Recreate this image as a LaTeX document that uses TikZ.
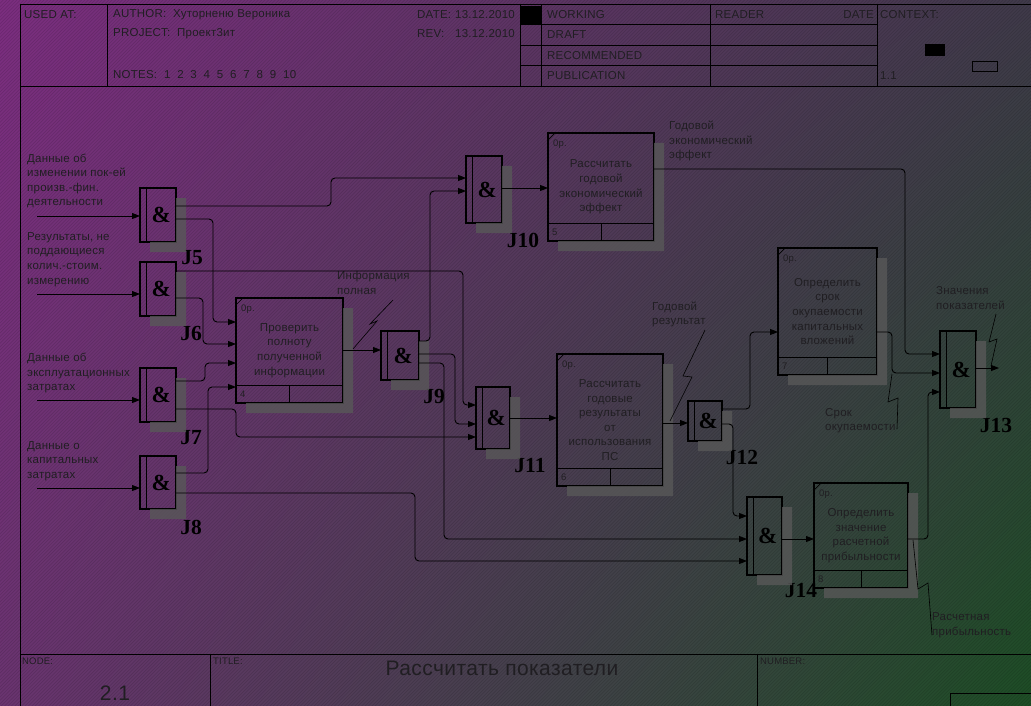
\documentclass[tikz,border=0pt]{standalone}
\usepackage{fontspec}
\setmainfont[LetterSpace=2]{Liberation Sans}
\newfontfamily\jfont{Liberation Serif}
\usetikzlibrary{arrows.meta,calc,shadings}
\definecolor{bgtl}{RGB}{124,46,128}
\definecolor{bgtr}{RGB}{64,58,74}
\definecolor{bgbl}{RGB}{106,52,112}
\definecolor{bgbr}{RGB}{30,78,38}
\definecolor{txt}{RGB}{32,30,34}
\definecolor{shadc}{RGB}{88,88,88}
\newcommand\jamp{\hspace*{6.5pt}\&}
\newcommand\boxdeco[2]{%
  \draw[line width=0.9pt] ([yshift=18pt]#1.south west) -- ([yshift=18pt]#1.south east);
  \draw[line width=0.9pt] ($(#1.south west)!0.5!(#1.south east)$) -- ++(0,-18);
  \draw[line width=0.7pt] ([yshift=-7pt]#1.north west) -- ([xshift=7pt]#1.north west);
  \node[small, anchor=west] (#1op) at ([xshift=5pt,yshift=-11pt]#1.north west) {0р.};
  \node[small, anchor=west] (#1num) at ([xshift=4pt,yshift=9pt]#1.south west) {#2};
}
\newcommand\dshadow[1]{\fill[shadowfill] ([yshift=-10pt]#1.north east) -- ([xshift=10pt,yshift=-10pt]#1.north east) -- ([xshift=10pt,yshift=-10pt]#1.south east) -- ([xshift=10pt,yshift=-10pt]#1.south west) -- ([xshift=10pt]#1.south west) -- (#1.south east) -- cycle;}
\tikzset{
 junc/.style={draw, line width=1.3pt, inner sep=0pt, outer sep=0pt, font=\jfont\bfseries\fontsize{23}{23}\selectfont,
   path picture={\draw[line width=1.1pt] ([xshift=6.5pt]path picture bounding box.north west) -- ([xshift=6.5pt]path picture bounding box.south west);}},
 pbox/.style={draw, line width=1.3pt, inner sep=0pt, outer sep=0pt, align=center, text=txt, font=\fontsize{11.5}{14.6}\selectfont},
 lab/.style={inner sep=0pt, align=left, anchor=west, text=txt, font=\fontsize{11.5}{14.6}\selectfont},
 hdr/.style={inner sep=0pt, anchor=west, text=txt, font=\fontsize{11.5}{13}\selectfont},
 small/.style={inner sep=0pt, text=txt, font=\fontsize{9.5}{11}\selectfont},
 jlab/.style={inner sep=0pt, font=\jfont\bfseries\fontsize{21.5}{21.5}\selectfont},
 conn/.style={draw, line width=0.9pt, rounded corners=4pt},
 arr/.style={conn, -{Triangle[length=8pt,width=6pt]}},
 squig/.style={draw, line width=0.6pt},
 frame/.style={draw, line width=1pt},
 shadowfill/.style={fill=shadc, fill opacity=0.8},
}
\begin{document}
\begin{tikzpicture}[x=1pt,y=-1pt]
\useasboundingbox (0,0) rectangle (1031,706);
\shade[upper left=bgtl, upper right=bgtr, lower left=bgbl, lower right=bgbr] (0,0) rectangle (1031,706);
\begin{scope}
\clip (0,0) rectangle (1031,706);
\foreach \i in {0,3.4,...,1745} \draw[black, opacity=0.13, line width=0.7pt] (\i,0) -- ++(-712,712);
\end{scope}

% ---------- header frame ----------
\draw[frame] (20,706) -- (20,5) -- (1031,5);
\draw[frame] (20,87) -- (1031,87);
\draw[frame] (107,5) -- (107,87) (520,5) -- (520,87) (541,5) -- (541,87) (710,5) -- (710,87) (877,5) -- (877,87);
\draw[frame] (520,25) -- (877,25) (520,46) -- (877,46) (520,66) -- (877,66);
\fill (521,6) rectangle (541,25);
\fill (925,44) rectangle (945,56);
\draw[line width=0.8pt] (972,61) rectangle (997,71);
\node[hdr] (usedat) at (24,15) {USED AT:};
\node[hdr] (author) at (113,15) {AUTHOR: \ Хуторненю Вероника};
\node[hdr] (project) at (113,34) {PROJECT: \ Проект3ит};
\node[hdr] (notes) at (113,75) {NOTES: \ 1 \ 2 \ 3 \ 4 \ 5 \ 6 \ 7 \ 8 \ 9 \ 10};
\node[hdr] (datel) at (417,15) {DATE:};
\node[hdr, anchor=east] (dated) at (515,15) {13.12.2010};
\node[hdr] (revl) at (417,34) {REV:};
\node[hdr, anchor=east] (revd) at (515,34) {13.12.2010};
\node[hdr] (working) at (547,15) {WORKING};
\node[hdr] (draft) at (547,35) {DRAFT};
\node[hdr] (recom) at (547,56) {RECOMMENDED};
\node[hdr] (publ) at (547,76) {PUBLICATION};
\node[hdr] (reader) at (715,15) {READER};
\node[hdr, anchor=east] (rdate) at (874,15) {DATE};
\node[hdr] (context) at (880,15) {CONTEXT:};
\node[hdr] (ctxnum) at (880,76) {1.1};

% ---------- footer ----------
\draw[frame] (20,654) -- (1031,654);
\draw[frame] (210,654) -- (210,706) (757,654) -- (757,706);
\draw[frame] (950,706) -- (950,693) -- (1031,693);
\node[small, anchor=west] (nodel) at (22,661) {NODE:};
\node[small, anchor=west] (titlel) at (213,661) {TITLE:};
\node[small, anchor=west] (numberl) at (760,661) {NUMBER:};
\node[text=txt, font=\fontsize{21}{21}\selectfont] (title) at (502,668) {Рассчитать показатели};
\node[text=txt, font=\fontsize{21}{21}\selectfont] (nodenum) at (115,693) {2.1};

% ---------- junctions ----------
\node[junc, minimum width=36pt, minimum height=54pt] (j5) at (158,215) {\jamp};
\node[junc, minimum width=36pt, minimum height=54pt] (j6) at (158,289) {\jamp};
\node[junc, minimum width=36pt, minimum height=54pt] (j7) at (158,395) {\jamp};
\node[junc, minimum width=36pt, minimum height=53pt] (j8) at (158,482.5) {\jamp};
\node[junc, minimum width=38pt, minimum height=49pt] (j9) at (400,355.5) {\jamp};
\node[junc, minimum width=36pt, minimum height=67pt] (j10) at (484,189.5) {\jamp};
\node[junc, minimum width=34pt, minimum height=62pt] (j11) at (493,418) {\jamp};
\node[junc, minimum width=34pt, minimum height=40pt] (j12) at (705,421) {\jamp};
\node[junc, minimum width=36pt, minimum height=77pt] (j13) at (958,369.5) {\jamp};
\node[junc, minimum width=35pt, minimum height=78pt] (j14) at (764.5,536) {\jamp};

\node[jlab] (l5) at (192,258) {J5};
\node[jlab] (l6) at (191,333) {J6};
\node[jlab] (l7) at (191,438) {J7};
\node[jlab] (l8) at (191,527) {J8};
\node[jlab] (l9) at (434,396) {J9};
\node[jlab] (l10) at (523,240) {J10};
\node[jlab] (l11) at (530,466) {J11};
\node[jlab] (l12) at (742,457) {J12};
\node[jlab] (l13) at (996,425) {J13};
\node[jlab] (l14) at (801,591) {J14};

% ---------- process boxes ----------
\node[pbox, minimum width=107pt, minimum height=105pt] (b4) at (289.5,350.5) {Проверить\\полноту\\полученной\\информации};
\node[pbox, minimum width=106pt, minimum height=108pt] (b5) at (601,187) {Рассчитать\\годовой\\экономический\\эффект};
\node[pbox, minimum width=106pt, minimum height=132pt] (b6) at (610,420) {Рассчитать\\годовые\\результаты\\от\\использования\\ПС};
\node[pbox, minimum width=99pt, minimum height=127pt] (b7) at (827.5,311.5) {Определить\\срок\\окупаемости\\капитальных\\вложений};
\node[pbox, minimum width=94pt, minimum height=105pt] (b8) at (861,535.5) {Определить\\значение\\расчетной\\прибыльности};
\boxdeco{b4}{4}
\boxdeco{b5}{5}
\boxdeco{b6}{6}
\boxdeco{b7}{7}
\boxdeco{b8}{8}

% ---------- shadows ----------
\foreach \n in {j5,j6,j7,j8,j9,j10,j11,j12,j13,j14,b4,b5,b6,b7,b8} {\dshadow{\n}}

% ---------- external labels ----------
\node[lab] (in1) at (27,181) {Данные об\\изменении пок-ей\\произв.-фин.\\деятельности};
\node[lab] (in2) at (27,259.5) {Результаты, не\\поддающиеся\\колич.-стоим.\\измерению};
\node[lab] (in3) at (27,373) {Данные об\\эксплуатационных\\затратах};
\node[lab] (in4) at (27,461) {Данные о\\капитальных\\затратах};
\node[lab] (infol) at (337,283) {Информация\\полная};
\node[lab] (effl) at (669,141) {Годовой\\экономический\\эффект};
\node[lab] (resl) at (652,314.5) {Годовой\\результат};
\node[lab] (srokl) at (825,420.5) {Срок\\окупаемости};
\node[lab] (znl) at (936,298) {Значения\\показателей};
\node[lab] (prl) at (932,625) {Расчетная\\прибыльность};

\coordinate (s1) at (37,216);
\coordinate (s2) at (37,294);
\coordinate (s3) at (37,400);
\coordinate (s4) at (37,488);
\coordinate (out) at (999,368);

% ---------- connectors ----------
\draw[arr] (s1) -- (j5.west |- s1);
\draw[arr] (s2) -- (j6.west |- s2);
\draw[arr] (s3) -- (j7.west |- s3);
\draw[arr] (s4) -- (j8.west |- s4);
\draw[arr] (j5.east |- 0,206) -- (331,206) -- (331,178) -- (j10.west |- 0,178);
\draw[arr] (j5.east |- 0,219) -- (213,219) -- (213,322) -- (b4.west |- 0,322);
\draw[arr] (j6.east |- 0,271) -- (463,271) -- (463,405) -- (j11.west |- 0,405);
\draw[arr] (j6.east |- 0,298) -- (203,298) -- (203,344) -- (b4.west |- 0,344);
\draw[arr] (j7.east |- 0,381) -- (205,381) -- (205,363) -- (b4.west |- 0,363);
\draw[arr] (j7.east |- 0,409) -- (236,409) -- (236,437) -- (j11.west |- 0,437);
\draw[arr] (j8.east |- 0,473) -- (208,473) -- (208,387) -- (b4.west |- 0,387);
\draw[arr] (j8.east |- 0,493) -- (415,493) -- (415,561) -- (j14.west |- 0,561);
\draw[arr] (b4.east |- 0,350) -- (j9.west |- 0,350);
\draw[arr] (j9.east |- 0,341) -- (430,341) -- (430,191) -- (j10.west |- 0,191);
\draw[arr] (j9.east |- 0,354) -- (455,354) -- (455,424) -- (j11.west |- 0,424);
\draw[arr] (j9.east |- 0,363) -- (444,363) -- (444,539) -- (j14.west |- 0,539);
\draw[arr] (j10.east |- 0,188) -- (b5.west |- 0,188);
\draw[arr] (j11.east |- 0,418) -- (b6.west |- 0,418);
\draw[arr] (b6.east |- 0,423) -- (j12.west |- 0,423);
\draw[arr] (j12.east |- 0,409) -- (750,409) -- (750,332) -- (b7.west |- 0,332);
\draw[arr] (j12.east |- 0,424) -- (733,424) -- (733,516) -- (j14.west |- 0,516);
\draw[arr] (j14.east |- 0,539) -- (b8.west |- 0,539);
\draw[arr] (b5.east |- 0,169) -- (905,169) -- (905,354) -- (j13.west |- 0,354);
\draw[arr] (b7.east |- 0,332) -- (892,332) -- (892,373) -- (j13.west |- 0,373);
\draw[arr] (b8.east |- 0,539) -- (928,539) -- (928,392) -- (j13.west |- 0,392);
\draw[arr] (j13.east |- out) -- (out);

% ---------- label squiggles ----------
\draw[squig] (393,300) -- (370,324) -- (377,321) -- (353,349);
\draw[squig] (705,330) -- (683,376) -- (692,377) -- (670,421);
\draw[squig] (897,429) -- (898,398) -- (888,402) -- (892,374);
\draw[squig] (996,314) -- (989,342) -- (997,339) -- (991,366);
\draw[squig] (913,540) -- (918,589) -- (928,583) -- (932,635);
\end{tikzpicture}
\end{document}
